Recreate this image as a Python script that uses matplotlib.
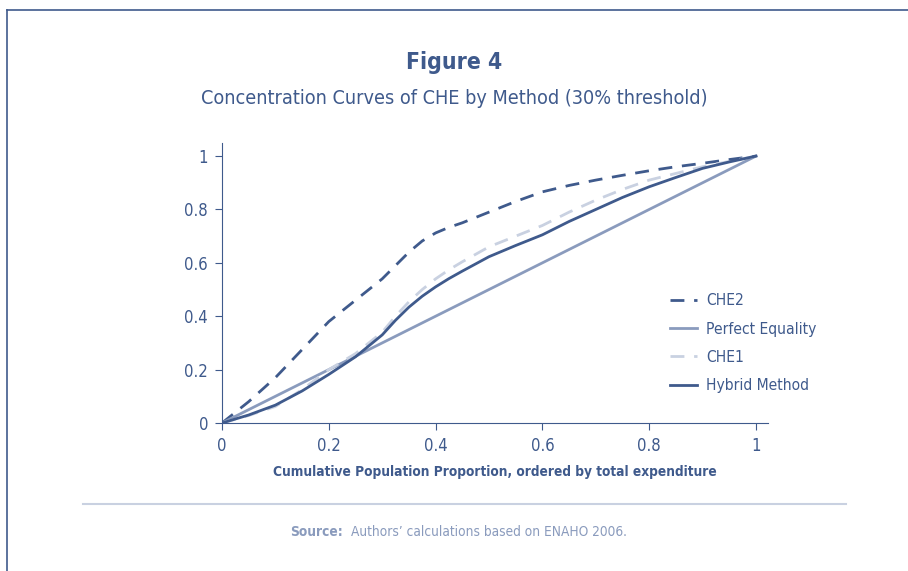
import matplotlib
matplotlib.use("Agg")
import matplotlib.pyplot as plt
from matplotlib.lines import Line2D

plt.rcParams['font.family'] = ['DejaVu Sans']
plt.rcParams['font.stretch'] = 'condensed'

DARK = "#3f5a8c"
MID = "#8a9bbd"
LIGHT = "#c9d1e1"

# cumulative population share
x = [0.0, 0.05, 0.1, 0.15, 0.2, 0.25, 0.3, 0.325, 0.35, 0.375, 0.4, 0.425, 0.45, 0.5,
     0.55, 0.6, 0.65, 0.7, 0.75, 0.8, 0.85, 0.9, 0.95, 1.0]
che2 = [0.0, 0.08, 0.17, 0.275, 0.38, 0.46, 0.54, 0.59, 0.64, 0.682, 0.712, 0.733, 0.75, 0.79,
        0.83, 0.866, 0.89, 0.91, 0.928, 0.945, 0.96, 0.973, 0.987, 1.0]
che1 = [0.0, 0.028, 0.062, 0.125, 0.2, 0.26, 0.34, 0.4, 0.454, 0.5, 0.54, 0.574, 0.604, 0.66,
        0.70, 0.74, 0.79, 0.835, 0.875, 0.91, 0.935, 0.96, 0.98, 1.0]
hybrid = [0.0, 0.03, 0.067, 0.12, 0.182, 0.248, 0.33, 0.385, 0.434, 0.475, 0.51, 0.541, 0.569,
          0.623, 0.665, 0.705, 0.755, 0.80, 0.845, 0.885, 0.92, 0.954, 0.978, 1.0]
equality_x = [0.0, 1.0]
equality = [0.0, 1.0]

fig = plt.figure(figsize=(9.08, 5.71), dpi=100)

# frame lines of the box
fig.add_artist(Line2D([7 / 908, 1.0], [1 - 10 / 571, 1 - 10 / 571], color=DARK, lw=1.2))
fig.add_artist(Line2D([7 / 908, 7 / 908], [0, 1 - 10 / 571], color=DARK, lw=1.2))
fig.add_artist(Line2D([83 / 908, 846 / 908], [1 - 504 / 571, 1 - 504 / 571], color=LIGHT, lw=1.5))

fig.text(0.5, 1 - 62 / 571, "Figure 4", ha="center", va="center", fontsize=16.5,
         fontweight="bold", color=DARK)
fig.text(0.5, 1 - 99 / 571, "Concentration Curves of CHE by Method (30% threshold)",
         ha="center", va="center", fontsize=14.2, color=DARK)
fig.text(343 / 908, 1 - 532 / 571, "Source:", ha="right", va="center", fontsize=9.8,
         fontweight="bold", color=MID)
fig.text(351 / 908, 1 - 532 / 571, "Authors’ calculations based on ENAHO 2006.", ha="left",
         va="center", fontsize=9.8, color=MID)

ax = fig.add_axes([222 / 908, (571 - 423) / 571, (768 - 222) / 908, (423 - 143) / 571])
ax.plot(x, che2, color=DARK, lw=2, ls=(0, (5, 3.5)), label="CHE2")
ax.plot(equality_x, equality, color=MID, lw=2, label="Perfect Equality")
ax.plot(x, che1, color=LIGHT, lw=2, ls=(0, (5, 3.5)), label="CHE1")
ax.plot(x, hybrid, color=DARK, lw=2, label="Hybrid Method")

ax.set_xlim(0, 1.0225)
ax.set_ylim(0, 1.049)
ticks = [0, 0.2, 0.4, 0.6, 0.8, 1]
tick_labels = ["0", "0.2", "0.4", "0.6", "0.8", "1"]
ax.set_xticks(ticks)
ax.set_xticklabels(tick_labels)
ax.set_yticks(ticks)
ax.set_yticklabels(tick_labels)
for s in ["top", "right"]:
    ax.spines[s].set_visible(False)
for s in ["left", "bottom"]:
    ax.spines[s].set_color(DARK)
ax.tick_params(colors=DARK, labelsize=12, length=5, pad=5)
ax.set_xlabel("Cumulative Population Proportion, ordered by total expenditure",
              fontsize=9.8, color=DARK, fontweight="bold", labelpad=7)

ax.legend(loc="center left", bbox_to_anchor=(0.795, 0.285), frameon=False, fontsize=11.2,
          labelcolor=DARK, handlelength=1.75, labelspacing=0.85, handletextpad=0.55)

fig.savefig("out.png", dpi=100)
